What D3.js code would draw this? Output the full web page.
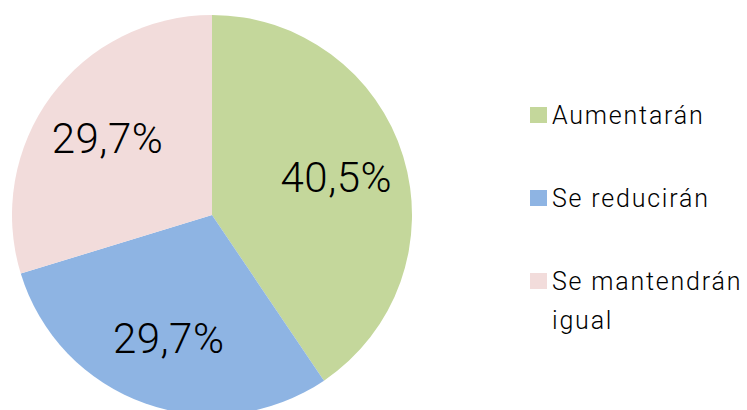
<!DOCTYPE html>
<html>
<head>
<meta charset="utf-8">
<script src="https://cdn.jsdelivr.net/npm/d3@7"></script>
<style>
  body { margin: 0; background: #fff; }
  text { font-family: Roboto, "DejaVu Sans", sans-serif; fill: #000; }
</style>
</head>
<body>
<div id="chart"></div>
<script>
const categories = ["Aumentarán", "Se reducirán", "Se mantendrán igual"];
const legendLines = [["Aumentarán"], ["Se reducirán"], ["Se mantendrán", "igual"]];
const values = [40.5, 29.7, 29.7];
const colors = ["#c4d79b", "#8eb4e3", "#f2dcdb"];

const width = 747, height = 410;
const radius = 200;
const cx = 212, cy = 215;

const svg = d3.select("#chart")
    .append("svg")
    .attr("width", width)
    .attr("height", height);

const data = categories.map((c, i) => ({key: c, value: values[i], color: colors[i]}));

const pie = d3.pie()
    .value(d => d.value)
    .sort(null);

const arc = d3.arc()
    .innerRadius(0)
    .outerRadius(radius);

const labelArc = d3.arc()
    .innerRadius(radius * 0.65)
    .outerRadius(radius * 0.65);

const g = svg.append("g")
    .attr("transform", "translate(" + cx + "," + cy + ")");

const arcs = pie(data);

g.selectAll("path")
    .data(arcs)
    .join("path")
    .attr("d", arc)
    .attr("fill", d => d.data.color);

// percentage labels
g.selectAll(".lbl")
    .data(arcs)
    .join("text")
    .attr("class", "lbl")
    .attr("transform", d => "translate(" + labelArc.centroid(d) + ")")
    .attr("text-anchor", "middle")
    .attr("dy", "0.36em")
    .style("font-size", "42px")
    .style("font-weight", 300)
    .style("letter-spacing", "0.5px")
    .text(d => d3.format(".1f")(d.data.value).replace(".", ",") + "%");

// legend
const legendY = d3.scalePoint()
    .domain(categories)
    .range([115, 281]);

const legend = svg.selectAll(".legend")
    .data(data)
    .join("g")
    .attr("class", "legend")
    .attr("transform", d => "translate(530," + legendY(d.key) + ")");

legend.append("rect")
    .attr("x", 0)
    .attr("y", -8)
    .attr("width", 17)
    .attr("height", 16)
    .attr("fill", d => d.color);

legend.append("text")
    .attr("x", 22)
    .attr("y", 0)
    .style("font-size", "25px")
    .style("font-weight", 300)
    .style("letter-spacing", "1.8px")
    .selectAll("tspan")
    .data((d, i) => legendLines[i])
    .join("tspan")
    .attr("x", 22)
    .attr("dy", (d, i) => i === 0 ? "0.36em" : "1.55em")
    .text(d => d);
</script>
</body>
</html>
